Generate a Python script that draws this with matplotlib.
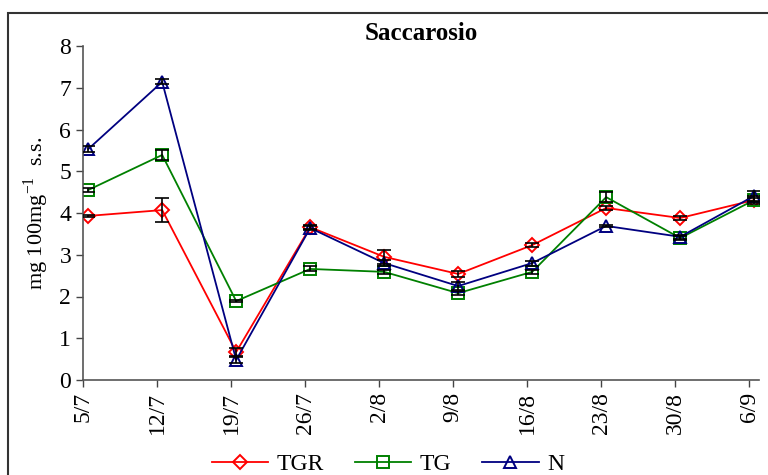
import numpy as np
import matplotlib
matplotlib.use("Agg")
import matplotlib.pyplot as plt
from matplotlib.patches import Rectangle

plt.rcParams["font.family"] = ["Liberation Serif", "DejaVu Serif"]
plt.rcParams["mathtext.fontset"] = "custom"
plt.rcParams["mathtext.rm"] = "Liberation Serif"

# sampling dates
dates = ["5/7", "12/7", "19/7", "26/7", "2/8", "9/8", "16/8", "23/8", "30/8", "6/9"]

tgr = [3.93, 4.07, 0.67, 3.66, 2.95, 2.54, 3.23, 4.12, 3.88, 4.31]
tgr_err = [0.03, 0.29, 0.10, 0.05, 0.17, 0.08, 0.05, 0.05, 0.04, 0.10]

tg = [4.55, 5.39, 1.89, 2.66, 2.59, 2.08, 2.59, 4.38, 3.40, 4.31]
tg_err = [0.05, 0.12, 0.03, 0.06, 0.05, 0.05, 0.05, 0.12, 0.05, 0.05]

n = [5.53, 7.14, 0.48, 3.64, 2.80, 2.25, 2.80, 3.69, 3.43, 4.41]
n_err = [0.08, 0.06, 0.08, 0.04, 0.08, 0.10, 0.06, 0.03, 0.05, 0.12]

fig = plt.figure(figsize=(7.68, 4.75), dpi=100)
ax = fig.add_axes([83 / 768, 95 / 475, 676 / 768, 334 / 475])

x = np.arange(len(dates)) + 0.07

series = [
    ("TGR", tgr, tgr_err, "#ff0000", "D", 7),
    ("TG", tg, tg_err, "#008000", "s", 8.5),
    ("N", n, n_err, "#000080", "^", 9),
]
for label, vals, err, col, mk, ms in series:
    ax.plot(x, vals, color=col, lw=1.3, marker=mk, ms=ms, mfc="none",
            mec=col, mew=1.4, label=label, zorder=2)
    ax.errorbar(x, vals, yerr=err, fmt="none", ecolor="black", elinewidth=1.2,
                capsize=5, capthick=1.2, zorder=3)

ax.set_xlim(0, 9.135)
ax.set_ylim(0, 8)
ax.set_yticks(range(9))
ax.set_xticks(range(len(dates)))
ax.set_xticklabels(dates, rotation=90)
ax.tick_params(axis="both", direction="out", length=5, width=1, labelsize=17,
               colors="#444444", labelcolor="black")
ax.spines["top"].set_visible(False)
ax.spines["right"].set_visible(False)
for s in ("left", "bottom"):
    ax.spines[s].set_color("#555555")
    ax.spines[s].set_linewidth(1.2)

ax.set_title("Saccarosio", fontsize=18, fontweight="bold", pad=4)
ax.set_ylabel("mg 100mg$^{-1}$  s.s.", fontsize=16, labelpad=6)

fig.legend(loc="lower center", bbox_to_anchor=(0.505, -0.045), ncol=3, frameon=False,
           fontsize=17, handlelength=2.4, columnspacing=1.3, handletextpad=0.35)

fig.patches.append(Rectangle((8 / 768, -0.1), 1.2, 1 - 13 / 475 + 0.1,
                             transform=fig.transFigure, fill=False,
                             edgecolor="#333333", lw=1.5))

fig.savefig("out.png", dpi=100)
